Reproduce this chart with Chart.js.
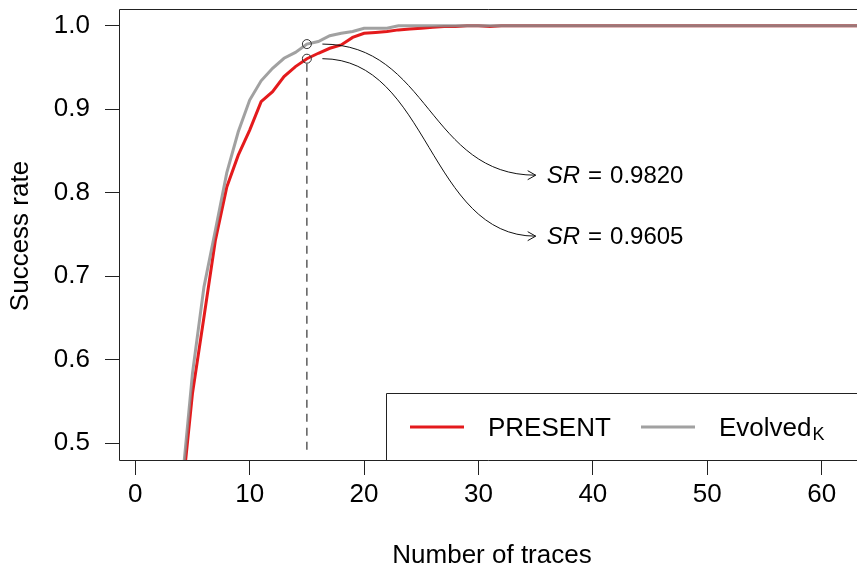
<!DOCTYPE html>
<html><head><meta charset="utf-8">
<script src="https://cdn.jsdelivr.net/npm/chart.js@4.4.1/dist/chart.umd.min.js"></script>
<style>html,body{margin:0;padding:0;background:#fff;overflow:hidden}canvas{display:block}</style>
</head><body>
<canvas id="c" width="857" height="569"></canvas>
<script>
const traces = [4,5,6,7,8,9,10,11,12,13,14,15,16,17,18,19,20,21,22,23,24,25,26,27,28,29,30,31,32,33,34,35,36,37,38,39,40,41,42,43,44,45,46,47,48,49,50,51,52,53,54,55,56,57,58,59,60,61,62,63,64,65];
const presentSR = [0.426,0.560,0.651,0.743,0.807,0.845,0.875,0.909,0.921,0.939,0.951,0.9605,0.967,0.973,0.977,0.986,0.991,0.992,0.993,0.995,0.996,0.997,0.998,0.999,0.999,1.0,1.0,0.999,
 1,1,1,1,1,1,1,1,1,1,1,1,1,1,1,1,1,1,1,1,1,1,1,1,1,1,1,1,1,1,1,1,1,1,1,1];
const evolvedSR = [0.439,0.584,0.687,0.755,0.824,0.873,0.911,0.934,0.949,0.961,0.968,0.978,0.981,0.988,0.991,0.993,0.997,0.997,0.997,
 1,1,1,1,1,1,1,1,1,1,1,1,1,1,1,1,1,1,1,1,1,1,1,1,1,1,1,1,1,1,1,1,1,1,1,1,1,1,1,1,1,1,1,1];
const xTickValues = [0,10,20,30,40,50,60];
const yTickValues = [0.5,0.6,0.7,0.8,0.9,1.0];
const seriesNames = ['PRESENT','Evolved'];
const seriesSubscripts = ['','K'];
const xTitle = 'Number of traces';
const yTitle = 'Success rate';
const markTrace = 15;
const markValues = [0.978, 0.9605];
const markLabels = ['0.9820', '0.9605'];
const labelAnchors = [[35, 0.821], [35, 0.748]];

const FONT = "'Liberation Sans', Arial, sans-serif";
const RED = '#E41A1C';
const GRAY = 'rgba(140,140,140,0.82)';

const toPts = (vals) => traces.map((t, i) => ({x: t, y: vals[i]}));

const annot = {
  id: 'annot',
  afterDatasetsDraw(chart) {
    const {ctx, chartArea: ca, scales: {x, y}} = chart;
    ctx.save();
    // box (top, left, bottom)
    ctx.strokeStyle = '#222'; ctx.lineWidth = 1;
    ctx.beginPath();
    ctx.moveTo(chart.width, ca.top + 0.5); ctx.lineTo(ca.left + 0.5, ca.top + 0.5);
    ctx.lineTo(ca.left + 0.5, ca.bottom + 0.5); ctx.lineTo(chart.width, ca.bottom + 0.5);
    ctx.stroke();

    const mx = x.getPixelForValue(markTrace);
    const yG = y.getPixelForValue(markValues[0]);
    const yR = y.getPixelForValue(markValues[1]);
    // dashed vertical
    ctx.strokeStyle = '#333'; ctx.lineWidth = 1.2; ctx.setLineDash([8, 6]);
    ctx.beginPath(); ctx.moveTo(mx, yR + 5); ctx.lineTo(mx, ca.bottom - 8); ctx.stroke();
    ctx.setLineDash([]);
    // circles
    ctx.strokeStyle = '#333'; ctx.lineWidth = 1;
    [yG, yR].forEach(py => { ctx.beginPath(); ctx.arc(mx, py, 4.5, 0, Math.PI * 2); ctx.stroke(); });
    // curves + arrows
    ctx.strokeStyle = '#111'; ctx.lineWidth = 1;
    [yG, yR].forEach((py, i) => {
      const sx = mx + 15.5;
      const ex = x.getPixelForValue(labelAnchors[i][0]);
      const ey = y.getPixelForValue(labelAnchors[i][1]);
      const dx = ex - sx;
      ctx.beginPath();
      ctx.moveTo(sx, py);
      ctx.bezierCurveTo(sx + 0.5 * dx, py, ex - 0.5 * dx, ey, ex, ey);
      ctx.stroke();
      ctx.beginPath();
      ctx.moveTo(ex - 8, ey - 4.5); ctx.lineTo(ex, ey); ctx.lineTo(ex - 8, ey + 4.5);
      ctx.stroke();
      // label
      let tx = ex + 11;
      ctx.fillStyle = '#000'; ctx.textBaseline = 'middle'; ctx.textAlign = 'left';
      ctx.font = 'italic 24px ' + FONT;
      ctx.fillText('SR', tx, ey + 1);
      tx += ctx.measureText('SR').width + 8;
      ctx.font = '24px ' + FONT;
      ctx.fillText('=', tx, ey + 1);
      tx += ctx.measureText('=').width + 8;
      ctx.fillText(markLabels[i], tx, ey + 1);
    });

    // legend
    const lx = 386, ly = 393;
    ctx.strokeStyle = '#222'; ctx.lineWidth = 1;
    ctx.beginPath();
    ctx.moveTo(lx + 0.5, ca.bottom); ctx.lineTo(lx + 0.5, ly + 0.5); ctx.lineTo(chart.width, ly + 0.5);
    ctx.stroke();
    const legY = 427;
    const items = [{c: RED, x0: 410}, {c: GRAY, x0: 641}];
    items.forEach((it, i) => {
      ctx.strokeStyle = it.c; ctx.lineWidth = 3;
      ctx.beginPath(); ctx.moveTo(it.x0, legY); ctx.lineTo(it.x0 + 54, legY); ctx.stroke();
      ctx.fillStyle = '#000'; ctx.font = '26px ' + FONT; ctx.textBaseline = 'alphabetic';
      const tx = it.x0 + 78;
      ctx.fillText(seriesNames[i], tx, legY + 9);
      if (seriesSubscripts[i]) {
        const w = ctx.measureText(seriesNames[i]).width;
        ctx.font = '18px ' + FONT;
        ctx.fillText(seriesSubscripts[i], tx + w + 1, legY + 13);
      }
    });

    // axis titles
    ctx.fillStyle = '#000'; ctx.font = '26px ' + FONT;
    ctx.textAlign = 'center'; ctx.textBaseline = 'middle';
    ctx.fillText(xTitle, 492, 556);
    ctx.translate(21, 236); ctx.rotate(-Math.PI / 2);
    ctx.fillText(yTitle, 0, 0);
    ctx.restore();
  }
};

new Chart(document.getElementById('c'), {
  type: 'line',
  data: {
    datasets: [
      {label: seriesNames[1], data: toPts(evolvedSR), borderColor: GRAY, borderWidth: 3, pointRadius: 0, tension: 0, clip: 0},
      {label: seriesNames[0], data: toPts(presentSR), borderColor: RED, borderWidth: 3, pointRadius: 0, tension: 0, clip: 0}
    ]
  },
  options: {
    responsive: false, animation: false, devicePixelRatio: 1,
    layout: {padding: {top: 9, right: 0, left: 0, bottom: 0}},
    plugins: {legend: {display: false}, tooltip: {enabled: false}},
    scales: {
      x: {
        type: 'linear', min: -1.425, max: 63.09,
        afterBuildTicks: s => { s.ticks = xTickValues.map(v => ({value: v})); },
        afterFit: s => { s.height = 109; s.paddingLeft = 0; s.paddingRight = 0; s.paddingTop = 0; s.paddingBottom = 0; },
        grid: {display: true, drawOnChartArea: false, drawTicks: true, tickLength: 15, color: '#222', lineWidth: 1},
        border: {display: false},
        ticks: {font: {family: FONT, size: 26}, color: '#000', padding: 4, maxRotation: 0, autoSkip: false, callback: v => String(v)}
      },
      y: {
        type: 'linear', min: 0.48, max: 1.02,
        afterBuildTicks: s => { s.ticks = yTickValues.map(v => ({value: v})); },
        afterFit: s => { s.width = 119; s.paddingLeft = 0; s.paddingRight = 0; s.paddingTop = 0; s.paddingBottom = 0; },
        grid: {display: true, drawOnChartArea: false, drawTicks: true, tickLength: 14, color: '#222', lineWidth: 1},
        border: {display: false},
        ticks: {font: {family: FONT, size: 26}, color: '#000', padding: 15, callback: v => v.toFixed(1)}
      }
    }
  },
  plugins: [annot]
});
</script>
</body></html>
